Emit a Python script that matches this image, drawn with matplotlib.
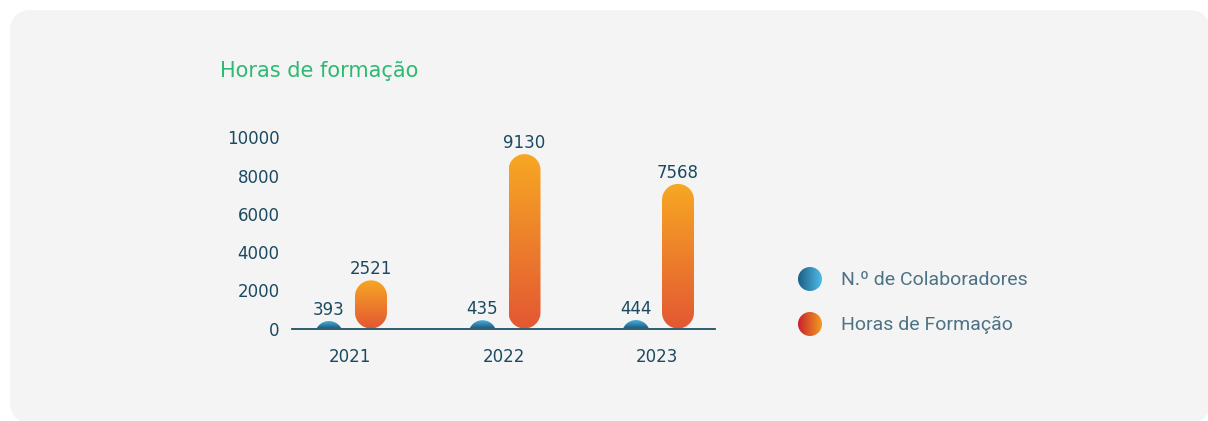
import numpy as np
import matplotlib.pyplot as plt
from matplotlib.patches import FancyBboxPatch, Polygon, Circle
from matplotlib.colors import LinearSegmentedColormap

# dados
anos = ['2021', '2022', '2023']
colaboradores = [393, 435, 444]
horas = [2521, 9130, 7568]
yticks = [0, 2000, 4000, 6000, 8000, 10000]
legenda = ['N.º de Colaboradores', 'Horas de Formação']

W, H = 1208, 421
fig = plt.figure(figsize=(W / 100, H / 100), dpi=100)
fig.patch.set_facecolor('white')

# fundo / cartão (coordenadas em pixels)
bg = fig.add_axes([0, 0, 1, 1], zorder=0)
bg.set_xlim(0, W)
bg.set_ylim(H, 0)
bg.axis('off')
bg.add_patch(FancyBboxPatch((10, 10), 1200, 413,
                            boxstyle='round,pad=0,rounding_size=22',
                            fc='#f4f4f4', ec='none', zorder=-5))
bg.text(220, 71, 'Horas de formação', color='#2dba70', fontsize=15,
        va='center', ha='left')

cmap_azul = LinearSegmentedColormap.from_list('azul', ['#1c5f86', '#4fbbe8'])
cmap_lar = LinearSegmentedColormap.from_list('lar', ['#e35833', '#f7a823'])
cmap_lar_leg = LinearSegmentedColormap.from_list('larl', ['#c9222e', '#f39a22'])

grad_h = np.linspace(0, 1, 64).reshape(1, -1)
for (cy, cm, txt) in [(279, cmap_azul, legenda[0]), (324, cmap_lar_leg, legenda[1])]:
    c = Circle((810, cy), 12, transform=bg.transData, fc='none', ec='none')
    bg.add_patch(c)
    im = bg.imshow(grad_h, cmap=cm, extent=[798, 822, cy + 12, cy - 12],
                   aspect='auto', interpolation='bicubic', zorder=2)
    im.set_clip_path(c)
    bg.text(841, cy + 1, txt, color='#4d7285', fontsize=14, va='center',
            ha='left', family='Roboto', weight='normal')
bg.set_xlim(0, W)
bg.set_ylim(H, 0)

# gráfico
x0, x1, yb, yt = 292, 715, 328.5, 137.5
ax = fig.add_axes([x0 / W, (H - yb) / H, (x1 - x0) / W, (yb - yt) / H], zorder=1)
ax.patch.set_alpha(0)
cx = np.arange(len(anos))
esp = 153.5  # px por unidade
py = (yb - yt) / 10000  # px por unidade y

grad_v = np.linspace(0, 1, 128).reshape(-1, 1)


def barra(xc, val, wpx, cm):
    rx = wpx / 2 / esp
    ry = wpx / 2 / py
    topo = val
    base = min(0, topo - 2 * ry)
    t = np.linspace(0, np.pi, 40)
    cima = np.column_stack([xc + rx * np.cos(t), topo - ry + ry * np.sin(t)])
    baixo = np.column_stack([xc - rx * np.cos(t), base + ry - ry * np.sin(t)])
    p = Polygon(np.vstack([cima, baixo]), closed=True, fc='none', ec='none')
    ax.add_patch(p)
    ylo = max(base, 0)
    im = ax.imshow(grad_v, cmap=cm, origin='lower', aspect='auto',
                   extent=[xc - rx, xc + rx, ylo, topo], interpolation='bicubic')
    im.set_clip_path(p)
    ax.annotate(f'{val}', (xc, topo), xytext=(0, 1.5), textcoords='offset points',
                ha='center', va='bottom', fontsize=12, color='#1b4a60')


off = 21 / esp
for i in range(len(anos)):
    barra(cx[i] - off, colaboradores[i], 28, cmap_azul)
    barra(cx[i] + off, horas[i], 32, cmap_lar)

ax.set_xlim((x0 - 350) / esp, (x1 - 350) / esp)
ax.set_ylim(0, 10000)
ax.set_xticks(cx)
ax.set_xticklabels(anos)
ax.set_yticks(yticks)
ax.tick_params(axis='x', length=0, pad=14, labelsize=12, labelcolor='#1b4a60')
ax.tick_params(axis='y', length=0, pad=9, labelsize=12, labelcolor='#1b4a60')
for s in ['top', 'right', 'left']:
    ax.spines[s].set_visible(False)
ax.spines['bottom'].set_color('#1d4f66')
ax.spines['bottom'].set_linewidth(1.3)
ax.spines['bottom'].set_zorder(5)

fig.savefig('out.png', dpi=100)
